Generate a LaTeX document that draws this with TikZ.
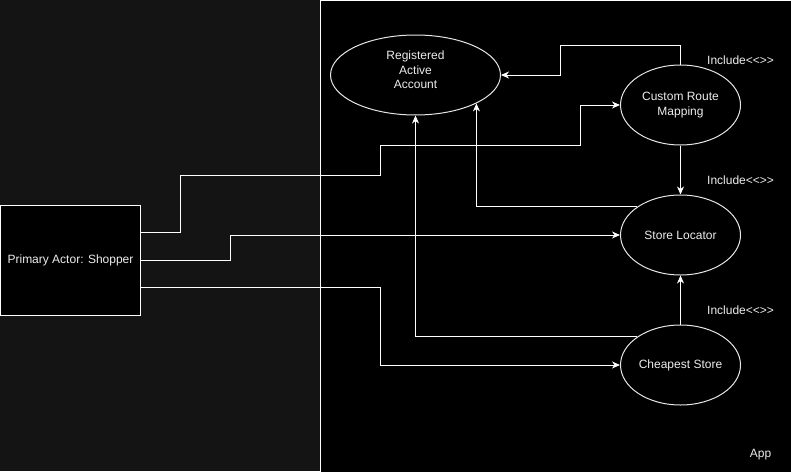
\documentclass[tikz,border=0pt]{standalone}
\usepackage{fontspec}
\setmainfont{Liberation Sans}
\usetikzlibrary{arrows.meta,shapes.geometric}
\definecolor{bgdark}{HTML}{141414}
\definecolor{txt}{HTML}{EDEDED}
\definecolor{edge}{HTML}{E6E6E6}
\begin{document}
\begin{tikzpicture}[x=1pt,y=-1pt,
  every node/.style={text=txt,font=\fontsize{12}{14.5}\selectfont},
  usecase/.style={ellipse,draw=edge,line width=1pt,fill=black,inner sep=0pt,
    minimum width=120pt,minimum height=80pt,align=center},
  actorbox/.style={rectangle,draw=white,line width=1pt,fill=black,inner sep=0pt,
    minimum width=140pt,minimum height=110pt},
  conn/.style={draw=white,line width=1pt,-{Stealth[length=8pt,width=7pt,inset=2.5pt]}},
  lbl/.style={anchor=west,inner sep=0pt}]
\useasboundingbox (0,0) rectangle (791,471);
\clip (0,0) rectangle (791,471);
\fill[bgdark] (0,0) rectangle (791,471);
\draw[white,line width=1pt,fill=black] (320.5,0.5) rectangle (800,480);

\node[usecase,minimum width=170pt] (ra) at (415.5,75) {};
\node[align=center,inner sep=0pt] (ratext) at (415.5,70) {Registered\\Active\\Account};
\node[usecase] (crm) at (680.5,105) {Custom Route\\Mapping};
\node[usecase] (sl) at (680.5,235) {Store Locator};
\node[usecase] (cs) at (680.5,365) {Cheapest Store};
\node[actorbox] (act) at (70.5,260.5) {Primary Actor: Shopper};

\node[lbl] (inc1) at (707,60) {Include<{}<{}>{}>};
\node[lbl] (inc2) at (707,180) {Include<{}<{}>{}>};
\node[lbl] (inc3) at (707,310) {Include<{}<{}>{}>};
\node[anchor=center,inner sep=0pt] (app) at (760.5,455) {App};

% include relations
\coordinate (b1) at (560.5,45.5);
\draw[conn] (crm.north) |- (b1) |- (ra.east);
\draw[conn] (crm.south) -- (sl.north);
\draw[conn] (cs.north) -- (sl.south);
\draw[conn] (sl.147) -| (ra.-25.7);
\draw[conn] (cs.147) -| (ra.south);

% actor associations
\coordinate (p1) at (140.5,232.5);
\coordinate (p2) at (180.5,232.5);
\coordinate (p3) at (180.5,175.5);
\coordinate (p4) at (380.5,175.5);
\coordinate (p5) at (380.5,145.5);
\coordinate (p6) at (580.5,145.5);
\coordinate (p7) at (580.5,105);
\draw[conn] (p1) -- (p2) -- (p3) -- (p4) -- (p5) -- (p6) -- (p7) -- (crm.west);

\coordinate (q1) at (230.5,260.5);
\coordinate (q2) at (230.5,235);
\draw[conn] (act.east) -- (q1) -- (q2) -- (sl.west);

\coordinate (r1) at (140.5,287.5);
\coordinate (r2) at (380.5,287.5);
\coordinate (r3) at (380.5,365);
\draw[conn] (r1) -- (r2) -- (r3) -- (cs.west);
\end{tikzpicture}
\end{document}
